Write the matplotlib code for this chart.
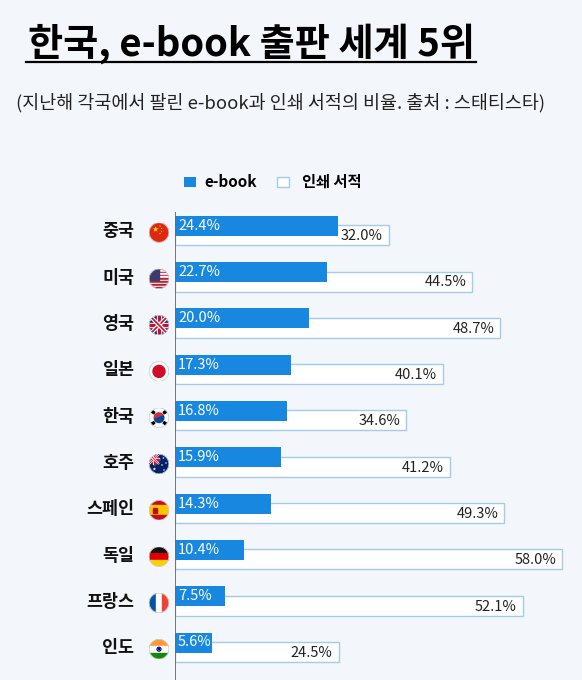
import matplotlib
matplotlib.use("Agg")
import matplotlib.pyplot as plt
from matplotlib.patches import Rectangle, Circle, Polygon, Wedge
from matplotlib.lines import Line2D
import numpy as np

plt.rcParams['font.family'] = ['Noto Sans CJK KR', 'DejaVu Sans']

# Data
countries = ['중국', '미국', '영국', '일본', '한국', '호주', '스페인', '독일', '프랑스', '인도']
flags = ['cn', 'us', 'gb', 'jp', 'kr', 'au', 'es', 'de', 'fr', 'in']
ebook = [24.4, 22.7, 20.0, 17.3, 16.8, 15.9, 14.3, 10.4, 7.5, 5.6]
printed = [32.0, 44.5, 48.7, 40.1, 34.6, 41.2, 49.3, 58.0, 52.1, 24.5]

title = '한국, e-book 출판 세계 5위'
subtitle = '(지난해 각국에서 팔린 e-book과 인쇄 서적의 비율. 출처 : 스태티스타)'

BG = '#f3f6fa'
BLUE = '#1787e0'
EDGE = '#a3cbea'

W, H = 582, 680
fig = plt.figure(figsize=(W / 100, H / 100), dpi=100, facecolor=BG)


def fx(px):
    return px / W


def fy(py):
    return 1 - py / H


# Title + underline
t = fig.text(fx(251), fy(44), title, ha='center', va='center', fontsize=27.5,
             fontweight='heavy', color='black')
fig.text(fx(281), fy(103), subtitle, ha='center', va='center', fontsize=13.3,
         color='#222222')

# Legend
fig.patches.append(Rectangle((fx(184), fy(187)), fx(12), 10 / H, facecolor=BLUE,
                             edgecolor='none', transform=fig.transFigure))
fig.text(fx(204), fy(182), 'e-book', ha='left', va='center', fontsize=11,
         fontweight='bold')
fig.patches.append(Rectangle((fx(277), fy(187)), fx(12), 10 / H, facecolor='white',
                             edgecolor=EDGE, lw=1, transform=fig.transFigure))
fig.text(fx(302), fy(182), '인쇄 서적', ha='left', va='center', fontsize=11,
         fontweight='bold')

# Main axes: x=0 at pixel 175, 6.68 px per percent
pitch = 46.3
ax_top, ax_bot = 212, 680
ax = fig.add_axes([fx(175), fy(ax_bot), fx(W - 175), (ax_bot - ax_top) / H])
ax.set_facecolor('none')
ax.set_xlim(0, (W - 175) / 6.68)
ax.set_ylim((ax_bot - 230.5) / pitch, (ax_top - 230.5) / pitch)
for s in ax.spines.values():
    s.set_visible(False)
ax.set_xticks([])
ax.set_yticks([])

bh = 20 / pitch
off = 4.7 / pitch
y = np.arange(len(countries))
ax.barh(y + off, printed, height=bh, color='white', edgecolor=EDGE, lw=1, zorder=1)
ax.barh(y - off, ebook, height=bh, color=BLUE, edgecolor='none', zorder=2)
ax.axvline(0, color='#6b6b6b', lw=1.3, zorder=3)

for i in range(len(countries)):
    ax.text(0.45, y[i] - off, f'{ebook[i]:.1f}%', ha='left', va='center',
            color='white', fontsize=10.5, zorder=4)
    ax.text(printed[i] - 0.9, y[i] + off + 0.02, f'{printed[i]:.1f}%', ha='right',
            va='center', color='#222222', fontsize=10.5, zorder=4)
    cy = 230.5 + pitch * i
    fig.text(fx(134), fy(cy + 1), countries[i], ha='right', va='center',
             fontsize=12.5, fontweight='bold', color='#111111')


# Flags
def stripes_h(a, cols, fracs):
    y0 = 1.0
    for c, f in zip(cols, fracs):
        a.add_patch(Rectangle((0, y0 - f), 1, f, color=c))
        y0 -= f


def union_jack(a, x0, y0, w, h):
    a.add_patch(Rectangle((x0, y0), w, h, color='#012169'))
    for p in [[(x0, y0), (x0 + w, y0 + h)], [(x0, y0 + h), (x0 + w, y0)]]:
        a.plot(*zip(*p), color='white', lw=3 * w, solid_capstyle='butt')
        a.plot(*zip(*p), color='#c8102e', lw=1.2 * w, solid_capstyle='butt')
    a.add_patch(Rectangle((x0 + w * 0.4, y0), w * 0.2, h, color='white'))
    a.add_patch(Rectangle((x0, y0 + h * 0.4), w, h * 0.2, color='white'))
    a.add_patch(Rectangle((x0 + w * 0.45, y0), w * 0.1, h, color='#c8102e'))
    a.add_patch(Rectangle((x0, y0 + h * 0.45), w, h * 0.1, color='#c8102e'))


def star(a, cx, cy, r, color):
    ang = np.pi / 2 + np.arange(10) * np.pi / 5
    rr = np.where(np.arange(10) % 2 == 0, r, r * 0.4)
    a.add_patch(Polygon(np.c_[cx + rr * np.cos(ang), cy + rr * np.sin(ang)],
                        color=color, lw=0))


def draw_flag(a, code):
    if code == 'cn':
        a.add_patch(Rectangle((0, 0), 1, 1, color='#de2910'))
        star(a, 0.33, 0.66, 0.15, '#ffde00')
        for sx, sy in [(0.55, 0.82), (0.63, 0.7), (0.63, 0.55), (0.55, 0.45)]:
            star(a, sx, sy, 0.05, '#ffde00')
    elif code == 'us':
        for k in range(13):
            a.add_patch(Rectangle((0, 1 - (k + 1) / 13), 1, 1 / 13,
                                  color='#b22234' if k % 2 == 0 else 'white'))
        a.add_patch(Rectangle((0, 6 / 13), 0.5, 7 / 13, color='#3c3b6e'))
    elif code == 'gb':
        union_jack(a, 0, 0, 1, 1)
    elif code == 'jp':
        a.add_patch(Rectangle((0, 0), 1, 1, color='white'))
        a.add_patch(Circle((0.5, 0.5), 0.3, color='#d00c27'))
    elif code == 'kr':
        a.add_patch(Rectangle((0, 0), 1, 1, color='white'))
        a.add_patch(Wedge((0.5, 0.5), 0.24, 20, 200, color='#cd2e3a'))
        a.add_patch(Wedge((0.5, 0.5), 0.24, 200, 380, color='#0047a0'))
        for bx, by, ang in [(0.2, 0.78, -35), (0.8, 0.78, 35), (0.2, 0.22, 35), (0.8, 0.22, -35)]:
            a.add_patch(Rectangle((bx - 0.08, by - 0.05), 0.16, 0.1, angle=ang,
                                  rotation_point='center', color='black'))
    elif code == 'au':
        a.add_patch(Rectangle((0, 0), 1, 1, color='#012169'))
        union_jack(a, 0, 0.5, 0.5, 0.5)
        star(a, 0.27, 0.25, 0.09, 'white')
        for sx, sy in [(0.72, 0.8), (0.85, 0.55), (0.65, 0.45), (0.75, 0.2)]:
            star(a, sx, sy, 0.06, 'white')
    elif code == 'es':
        stripes_h(a, ['#c60b1e', '#ffc400', '#c60b1e'], [0.25, 0.5, 0.25])
        a.add_patch(Rectangle((0.22, 0.38), 0.18, 0.22, color='#ad1519'))
    elif code == 'de':
        stripes_h(a, ['#111111', '#dd0000', '#ffce00'], [1 / 3] * 3)
    elif code == 'fr':
        for k, c in enumerate(['#0055a4', 'white', '#ef4135']):
            a.add_patch(Rectangle((k / 3, 0), 1 / 3, 1, color=c))
    elif code == 'in':
        stripes_h(a, ['#ff9933', 'white', '#138808'], [1 / 3] * 3)
        a.add_patch(Circle((0.5, 0.5), 0.1, fill=False, ec='#000080', lw=0.8))
        a.add_patch(Circle((0.5, 0.5), 0.03, color='#000080'))


for i, code in enumerate(flags):
    cy = 230.5 + pitch * i + 2
    fa = fig.add_axes([fx(149), fy(cy + 10), fx(20), 20 / H])
    fa.set_xlim(0, 1)
    fa.set_ylim(0, 1)
    fa.axis('off')
    draw_flag(fa, code)
    clip = Circle((0.5, 0.5), 0.5, transform=fa.transData)
    for art in fa.patches + fa.lines:
        art.set_clip_path(clip)
    fa.add_patch(Circle((0.5, 0.5), 0.49, fill=False, ec='#cccccc', lw=0.6))

# underline for title
fig.canvas.draw()
bb = t.get_window_extent(fig.canvas.get_renderer())
fig.add_artist(Line2D([bb.x0 / W - 0.003, bb.x1 / W + 0.003], [fy(62)] * 2,
                      color='black', lw=1.6, transform=fig.transFigure))

fig.savefig('out.png', dpi=100, facecolor=BG)
